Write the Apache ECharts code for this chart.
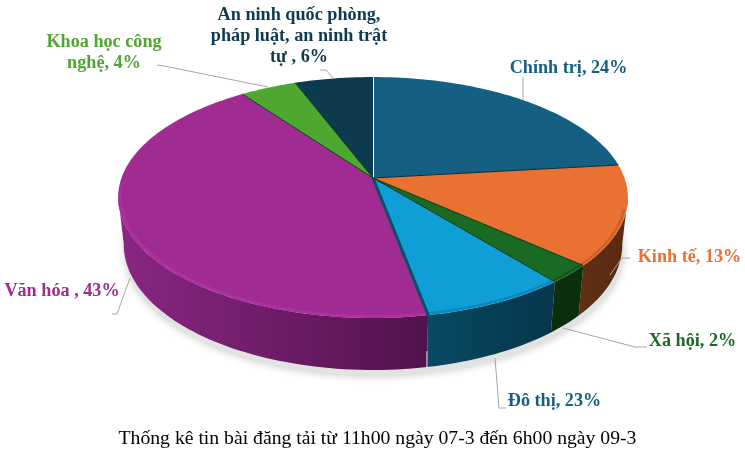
<!DOCTYPE html>
<html><head><meta charset="utf-8">
<style>html,body{margin:0;padding:0;background:#fff}#c{width:745px;height:460px}</style>
<script src="https://cdn.jsdelivr.net/npm/echarts@6/dist/echarts.min.js"></script>
</head><body><div id="c"></div>
<script>
// Data
const categories = ['Chính trị','Kinh tế','Xã hội','Đô thị','Văn hóa','Khoa học công nghệ','An ninh quốc phòng, pháp luật, an ninh trật tự'];
// Slice sizes as drawn in the picture (share of the full circle, %)
const sliceShares = [23.2,13.4,2.5,7.95,42.95,4.2,5.8];
// Percentages as printed on the labels
const printedPercents = [24,13,2,23,43,4,6];
const labelLines = [
  ['Chính trị, 24%'],['Kinh tế, 13%'],['Xã hội, 2%'],['Đô thị, 23%'],['Văn hóa , 43%'],
  ['Khoa học công','nghệ, 4%'],['An ninh quốc phòng,','pháp luật, an ninh trật','tự , 6%']
];
const chartTitle = 'Thống kê tin bài đăng tải từ 11h00 ngày 07-3 đến 6h00 ngày 09-3';

// Styles
const topColors = ['#156082','#E97132','#196B24','#0F9ED5','#A02B93','#4EA72E','#0E3A50'];
const wallFrom  = ['#0d3a4e','#5f2f14','#0b2e0d','#064a63','#8a2682','#2f651c','#08222f'];
const wallTo    = ['#0d3a4e','#5a2a11','#0b2e0d','#06364c','#51124d','#2f651c','#08222f'];
const rimColors = ['#0f4a66','#c25a24','#114f19','#0b7fb0','#b434a6','#3f8a24','#0b2e40'];
const edgeColors= ['#ffffff','#0a2a3a','#0c3a14','#0c3a14','#06506a','#0c3a14','#0a3a20'];
const textColors= ['#156082','#E97132','#196B24','#156082','#A02B93','#4EA72E','#0E3A50'];

// Projection of the tilted disc (perspective)
const CX=373, CY=178, A=117.3, B=251.5, K=0.162;
function proj(theta,r,down){
  const u=r*Math.sin(theta), v=-r*Math.cos(theta), w=1-K*v;
  const x=B*u/w, y=A*v/w;
  if(!down) return [CX+x,CY+y];
  return [CX+x*0.978,CY+y+46+6*v];
}
const rad=d=>d*Math.PI/180;
const total=sliceShares.reduce((a,b)=>a+b,0);
function range(i){
  let s=0; for(let j=0;j<i;j++) s+=sliceShares[j];
  return [s/total*2*Math.PI,(s+sliceShares[i])/total*2*Math.PI];
}
function arc(a,b,down){
  const n=Math.max(2,Math.ceil((b-a)/rad(1.5))),p=[];
  for(let t=0;t<=n;t++) p.push(proj(a+(b-a)*t/n,1,down));
  return p;
}
const WALL_A=rad(99), WALL_B=rad(261);
const empty={type:'group',children:[]};

function renderShadow(params,api){
  if(params.dataIndex!==0) return empty;
  const pts=arc(0,2*Math.PI,true).map(p=>[p[0]+1,p[1]+6]);
  return {type:'polygon',shape:{points:pts},silent:true,
    style:{fill:'#e2e2e2',shadowBlur:9,shadowColor:'rgba(0,0,0,0.22)'}};
}
function renderWall(params,api){
  const i=params.dataIndex, r=range(i);
  const a=Math.max(r[0],WALL_A), b=Math.min(r[1],WALL_B);
  if(b<=a) return empty;
  const pts=arc(a,b,false).concat(arc(a,b,true).reverse());
  const kids=[{type:'polygon',shape:{points:pts},
    style:{fill:new echarts.graphic.LinearGradient(0,0,1,0,[
      {offset:0,color:wallFrom[i]},{offset:1,color:wallTo[i]}])}}];
  if(i===4){
    const p=proj(a,1,true);
    kids.push({type:'line',shape:{x1:p[0],y1:p[1]-16,x2:p[0],y2:p[1]+1},style:{stroke:'#ffffff',lineWidth:1,opacity:0.85}});
  }
  return {type:'group',children:kids};
}
function renderTop(params,api){
  const i=params.dataIndex, r=range(i);
  const pts=[proj(0,0,false)].concat(arc(r[0],r[1],false));
  const kids=[{type:'polygon',shape:{points:pts},style:{fill:topColors[i]}}];
  // soft rim on the front edge
  const a=Math.max(r[0],rad(105)), b=Math.min(r[1],rad(268));
  if(b>a){
    const inner=[];const n=Math.ceil((b-a)/rad(1.5));
    for(let t=0;t<=n;t++) inner.push(proj(a+(b-a)*t/n,0.99,false));
    kids.push({type:'polyline',shape:{points:inner},
      style:{stroke:rimColors[i],lineWidth:2.5,fill:null,opacity:0.7}});
  }
  // radial edge at slice start
  const e=proj(r[0],1,false);
  kids.push({type:'line',shape:{x1:CX,y1:CY,x2:e[0],y2:e[1]},
    style:{stroke:edgeColors[i],lineWidth:i===0?2:(i===4?3:1)}});
  return {type:'group',children:kids};
}

const leaders=[
 [[523,100],[523,77]],
 [[630,258],[622,258],[610,275]],
 [[647,347],[635,347],[563,328]],
 [[506,408],[499,408],[495,358]],
 [[112,314],[117,314],[130,278]],
 [[157,65],[164,66],[268,87]],
 [[320,70],[326,70],[333,78]]
];
const labelBoxes=[
 {x:568.5,y:68},{x:689.5,y:257},{x:692.5,y:341},{x:554.5,y:401},{x:62,y:291},{x:104,y:52.5},{x:299,y:36}
];
const graphics=[];
leaders.forEach(l=>graphics.push({type:'polyline',shape:{points:l},silent:true,z:5,
  style:{stroke:'#a6a6a6',lineWidth:1,fill:null}}));
labelLines.forEach((lines,i)=>graphics.push({type:'text',x:labelBoxes[i].x,y:labelBoxes[i].y,z:6,silent:true,
  style:{text:lines.join('\n'),fill:textColors[i],align:'center',verticalAlign:'middle',
    font:'bold 18.2px "Liberation Serif"',lineHeight:21}}));

const seriesData=sliceShares.map((v,i)=>({name:categories[i],value:v,printed:printedPercents[i]}));
const chart=echarts.init(document.getElementById('c'),null,{renderer:'canvas'});
chart.setOption({
  backgroundColor:'#fff',animation:false,
  title:{text:chartTitle,left:372.5,top:434,textAlign:'center',textVerticalAlign:'middle',
    textStyle:{fontFamily:'Liberation Serif',fontWeight:'normal',fontSize:19.7,color:'#000'}},
  series:[
    {type:'custom',coordinateSystem:'none',renderItem:renderShadow,data:seriesData,silent:true,z:1},
    {type:'custom',coordinateSystem:'none',renderItem:renderWall,data:seriesData,silent:true,z:2},
    {type:'custom',coordinateSystem:'none',renderItem:renderTop,data:seriesData,silent:true,z:3}
  ],
  graphic:graphics
});
</script></body></html>
